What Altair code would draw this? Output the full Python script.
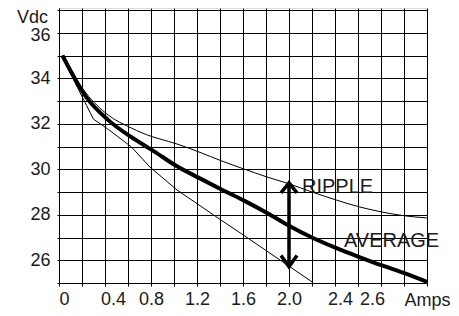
import altair as alt
import pandas as pd

# ---- data ----
avg_amps = [0.03, 0.235, 0.426, 0.626, 0.817, 1.026, 1.217, 1.417, 1.609, 1.809, 2.0, 2.2, 2.409, 2.617, 2.809, 3.009, 3.2]
avg_vdc = [35.0, 33.18, 32.17, 31.42, 30.82, 30.13, 29.62, 29.1, 28.62, 28.08, 27.52, 27.0, 26.54, 26.13, 25.77, 25.42, 25.05]

hi_amps = [0.03, 0.235, 0.426, 0.626, 0.817, 0.878, 1.026, 1.217, 1.417, 1.609, 1.809, 2.0, 2.2, 2.409, 2.617, 2.809, 3.009, 3.2]
hi_vdc = [35.0, 33.35, 32.39, 31.82, 31.42, 31.33, 31.11, 30.76, 30.36, 30.01, 29.66, 29.36, 29.0, 28.65, 28.34, 28.12, 27.95, 27.86]

lo_amps = [0.03, 0.14, 0.24, 0.30, 0.43, 0.63, 0.79, 1.026, 1.217, 1.417, 1.591, 2.0, 2.2]
lo_vdc = [35.0, 33.8, 32.8, 32.2, 31.75, 30.98, 30.1, 29.09, 28.43, 27.74, 27.15, 25.74, 25.05]

arrow_amps = [2.0]
arrow_low = [25.72]
arrow_high = [29.4]

x_ticks = [0, 0.2, 0.4, 0.6, 0.8, 1.0, 1.2, 1.4, 1.6, 1.8, 2.0, 2.2, 2.4, 2.6, 2.8, 3.0, 3.2]
x_labels = [0, 0.4, 0.8, 1.2, 1.6, 2.0, 2.4, 2.6]
y_ticks = [25, 26, 27, 28, 29, 30, 31, 32, 33, 34, 35, 36, 37]

labels_text = ["RIPPLE", "AVERAGE"]
labels_amps = [2.113, 2.478]
labels_vdc = [28.94, 26.59]

FONT = "Liberation Sans"
INK = "#1a1a1a"

avg_df = pd.DataFrame({"amps": avg_amps, "vdc": avg_vdc})
hi_df = pd.DataFrame({"amps": hi_amps, "vdc": hi_vdc})
lo_df = pd.DataFrame({"amps": lo_amps, "vdc": lo_vdc})
arrow_df = pd.DataFrame({"amps": arrow_amps, "low": arrow_low, "high": arrow_high})
text_df = pd.DataFrame({"label": labels_text, "amps": labels_amps, "vdc": labels_vdc})

xs = alt.Scale(domain=[0, 3.2], nice=False, zero=False)
ys = alt.Scale(domain=[25, 37.088], nice=False, zero=False)

label_list = ", ".join(str(v) for v in x_labels)
x_axis = alt.Axis(
    values=x_ticks, tickCount=100,
    grid=True, gridColor="black", gridOpacity=1, gridWidth=1,
    domainColor="black", domainWidth=1,
    tickColor="black", tickSize=3,
    labelExpr=f"indexof([{label_list}], datum.value) >= 0 ? (datum.value == 0 ? '0' : format(datum.value, '.1f')) : ''",
    labelFont=FONT, labelFontSize=18, labelColor=INK,
    labelPadding=4, labelOverlap=False,
    labelOffset={
        "condition": [
            {"test": "datum.value == 0.4", "value": 8},
            {"test": "datum.value == 2.4", "value": 5},
            {"test": "datum.value == 2.6", "value": 14},
        ],
        "value": 0,
    },
    title="Amps", titleFont=FONT, titleFontSize=18, titleFontWeight="normal",
    titleColor=INK, titleX=368, titleY=17, titleAlign="center", titleBaseline="middle",
)
y_axis = alt.Axis(
    values=y_ticks, tickCount=100,
    grid=True, gridColor="black", gridOpacity=1, gridWidth=1,
    domainColor="black", domainWidth=1,
    tickColor="black", tickSize=2,
    labelExpr="datum.value % 2 == 0 ? format(datum.value, 'd') : ''",
    labelFont=FONT, labelFontSize=18, labelColor=INK,
    labelPadding=7, labelOverlap=False, labelFlush=False,
    labelOffset={"condition": {"test": "datum.value == 36", "value": 3}, "value": 0},
    title="Vdc", titleFont=FONT, titleFontSize=18, titleFontWeight="normal",
    titleColor=INK, titleAngle=0, titleX=-27, titleY=0,
    titleAlign="center", titleBaseline="top",
)

base_x = alt.X("amps:Q", scale=xs, axis=x_axis)
base_y = alt.Y("vdc:Q", scale=ys, axis=y_axis)

avg_line = alt.Chart(avg_df).mark_line(color="black", strokeWidth=4, strokeJoin="round", interpolate="monotone").encode(
    x=base_x, y=base_y
)
hi_line = alt.Chart(hi_df).mark_line(color="black", strokeWidth=1, interpolate="monotone").encode(
    x=base_x, y=base_y
)
lo_line = alt.Chart(lo_df).mark_line(color="black", strokeWidth=1, interpolate="linear").encode(
    x=base_x, y=base_y
)
arrow_rule = alt.Chart(arrow_df).mark_rule(color="black", strokeWidth=3.5).encode(
    x=base_x, y=alt.Y("low:Q", scale=ys, axis=y_axis), y2="high:Q"
)
head_up = alt.Chart(arrow_df).mark_point(
    shape="M-1,1.25L0,0L1,1.25", filled=False, stroke="black", strokeWidth=3.5, size=256, opacity=1
).encode(x=base_x, y=alt.Y("high:Q", scale=ys, axis=y_axis))
head_down = alt.Chart(arrow_df).mark_point(
    shape="M-1,-1.4L0,0L1,-1.4", filled=False, stroke="black", strokeWidth=3.5, size=256, opacity=1
).encode(x=base_x, y=alt.Y("low:Q", scale=ys, axis=y_axis))
labels = alt.Chart(text_df).mark_text(
    align="left", baseline="alphabetic", font=FONT, fontSize=20, color=INK
).encode(x=base_x, y=base_y, text="label:N")

chart = alt.layer(avg_line, hi_line, lo_line, arrow_rule, head_up, head_down, labels).properties(
    width=368, height=275,
    autosize=alt.AutoSizeParams(type="none"),
    padding={"left": 51, "top": 0, "right": 23, "bottom": 27},
).configure_view(stroke=None).configure(background="white")

chart.save("out.html", embed_options={"renderer": "svg", "actions": False})
